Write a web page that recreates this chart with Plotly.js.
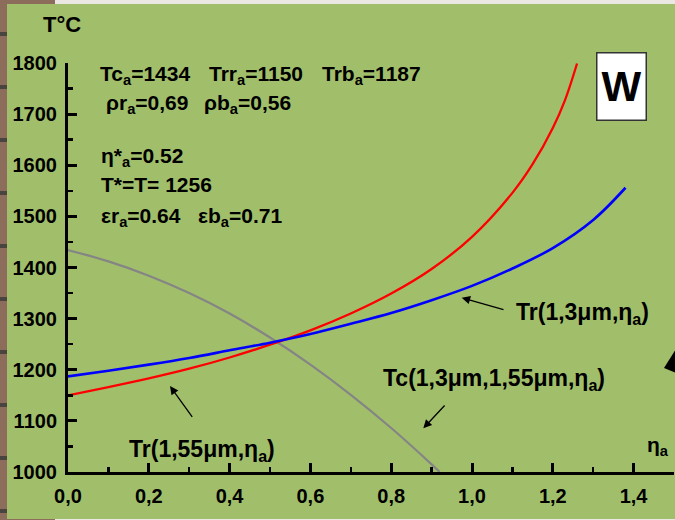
<!DOCTYPE html>
<html>
<head>
<meta charset="utf-8">
<script src="https://cdn.plot.ly/plotly-3.0.1.min.js"></script>
<style>
  html, body { margin:0; padding:0; width:675px; height:520px; overflow:hidden; background:#8c6d5b; }
  #leftstrip { position:absolute; left:0; top:0; width:7px; height:520px;
    background: repeating-linear-gradient(to bottom, #8c6d5b 0px, #8c6d5b 32px, #4a4440 32px, #4a4440 36px, #8c6d5b 36px, #8c6d5b 53px); }
  #topstrip { position:absolute; left:55px; top:0; width:620px; height:4px; background:#ebe8e3; }
  #botstrip { position:absolute; left:55px; top:519px; width:620px; height:1px; background:#ebe8e3; }
  #panel { position:absolute; left:7px; top:4px; width:668px; height:515px; background:#a1bf6b; }
  #chart { position:absolute; left:0; top:0; width:675px; height:520px; }
</style>
</head>
<body>
<div id="leftstrip"></div>
<div id="topstrip"></div>
<div id="botstrip"></div>
<div id="panel"></div>
<div id="chart"></div>
<script>
// ---- data ----
const etaRed  = [0, 0.1, 0.2, 0.3, 0.4, 0.5, 0.6, 0.7, 0.8, 0.9, 1.0, 1.1, 1.15, 1.2, 1.23, 1.26];
const trRed   = [1150, 1166, 1183, 1202, 1224, 1249, 1277, 1310, 1349, 1397, 1460, 1546, 1602, 1673, 1727, 1799];
const etaBlue = [0, 0.1, 0.2, 0.3, 0.4, 0.5, 0.6, 0.7, 0.8, 0.9, 1.0, 1.1, 1.2, 1.3, 1.38];
const trBlue  = [1187, 1198, 1210, 1223, 1238, 1253, 1270, 1290, 1311, 1336, 1364, 1398, 1438, 1493, 1556];
const etaGray = [0, 0.1, 0.2, 0.3, 0.4, 0.5, 0.6, 0.7, 0.8, 0.9, 0.92];
const tcGray  = [1434, 1412, 1384, 1350, 1310, 1263, 1210, 1151, 1086, 1015, 1000];

const xRange = [0, 1.5];
const yRange = [1000, 1800];

// ---- layout geometry ----
const W = 675, H = 520;
const M = {l:68, r:1, t:63, b:48};
const plotW = W - M.l - M.r, plotH = H - M.t - M.b;
function px2x(px){ return xRange[0] + (px - M.l) / plotW * (xRange[1]-xRange[0]); }
function py2y(py){ return yRange[0] + (H - M.b - py) / plotH * (yRange[1]-yRange[0]); }
function px2paper(px){ return (px - M.l) / plotW; }
function py2paper(py){ return (H - M.b - py) / plotH; }

const FONT = 'Liberation Sans, Arial, sans-serif';
const tf = (s) => ({family: FONT, size: s, color: '#000', weight: 'bold'});

function label(text, px, py, size, extra){
  return Object.assign({text: text, x: px2paper(px), y: py2paper(py), xref:'paper', yref:'paper',
    xanchor:'left', yanchor:'middle', showarrow:false, font: tf(size || 21)}, extra || {});
}
function arrow(hx, hy, tx, ty){
  return {text:'', x: px2x(hx), y: py2y(hy), xref:'x', yref:'y', ax: tx-hx, ay: ty-hy,
    showarrow:true, arrowhead:2, arrowsize:1.3, arrowwidth:1.3, arrowcolor:'#000'};
}

const traces = [
  {x: etaGray, y: tcGray, mode:'lines', line:{color:'#858585', width:2.2, shape:'spline'}, cliponaxis:false},
  {x: etaRed, y: trRed, mode:'lines', line:{color:'#ff0000', width:2.3, shape:'spline'}, cliponaxis:false},
  {x: etaBlue, y: trBlue, mode:'lines', line:{color:'#0000ff', width:2.6, shape:'spline'}, cliponaxis:false}
];

const annotations = [
  label('T°C', 41, 25, 22),
  label('η<sub>a</sub>', 645, 446, 21),
  label('Tc<sub>a</sub>=1434', 98, 75),
  label('Trr<sub>a</sub>=1150', 207, 75),
  label('Trb<sub>a</sub>=1187', 320, 75),
  label('ρr<sub>a</sub>=0,69', 104, 104),
  label('ρb<sub>a</sub>=0,56', 202, 104),
  label('η*<sub>a</sub>=0.52', 99, 157),
  label('T*=T= 1256', 99, 184),
  label('εr<sub>a</sub>=0.64', 99, 217),
  label('εb<sub>a</sub>=0.71', 196, 217),
  label('Tr(1,3μm,η<sub>a</sub>)', 514, 313, 23),
  label('Tc(1,3μm,1,55μm,η<sub>a</sub>)', 381, 379, 23),
  label('Tr(1,55μm,η<sub>a</sub>)', 127, 450, 23),
  {text:'W', x: px2paper(621.5), y: py2paper(86.5), xref:'paper', yref:'paper', xanchor:'center', yanchor:'middle',
   showarrow:false, font:{family: FONT, size: 42, color:'#000', weight:'bold'},
   bgcolor:'#ffffff', bordercolor:'#333333', borderwidth:1.5, width:48, height:66, borderpad:0},
  arrow(461.7, 297.7, 505, 310),
  arrow(423.3, 428.3, 446, 404),
  arrow(170, 386, 193.3, 418.3)
];

const shapes = [
  {type:'path', xref:'paper', yref:'paper', layer:'above',
   path: 'M ' + px2paper(664) + ',' + py2paper(368) + ' L ' + px2paper(676) + ',' + py2paper(349) + ' L ' + px2paper(676) + ',' + py2paper(373) + ' Z',
   fillcolor:'#000', line:{width:0}}
];

const layout = {
  width: W, height: H,
  margin: {l:M.l, r:M.r, t:M.t, b:M.b, pad:0},
  paper_bgcolor: 'rgba(0,0,0,0)',
  plot_bgcolor: 'rgba(0,0,0,0)',
  separators: ',.',
  showlegend: false,
  font: {family: FONT, color:'#000'},
  xaxis: {
    range: xRange, dtick: 0.2, tick0: 0, tickformat: '.1f',
    showgrid:false, zeroline:false, showline:true, linecolor:'#000', linewidth:3,
    ticks:'inside', ticklen:9, tickwidth:3, tickcolor:'#000',
    minor: {dtick:0.1, ticks:'inside', ticklen:5, tickwidth:2.5, tickcolor:'#000', showgrid:false},
    tickfont: tf(20), ticklabelstandoff: 4, fixedrange:true
  },
  yaxis: {
    range: yRange, dtick: 100, tick0: 1000,
    showgrid:false, zeroline:false, showline:true, linecolor:'#000', linewidth:3,
    ticks:'inside', ticklen:9, tickwidth:3, tickcolor:'#000',
    minor: {dtick:50, ticks:'inside', ticklen:5, tickwidth:2.5, tickcolor:'#000', showgrid:false},
    tickfont: tf(20), ticklabelstandoff: 4, fixedrange:true
  },
  annotations: annotations,
  shapes: shapes
};

Plotly.newPlot('chart', traces, layout, {displayModeBar:false, staticPlot:true});
</script>
</body>
</html>
